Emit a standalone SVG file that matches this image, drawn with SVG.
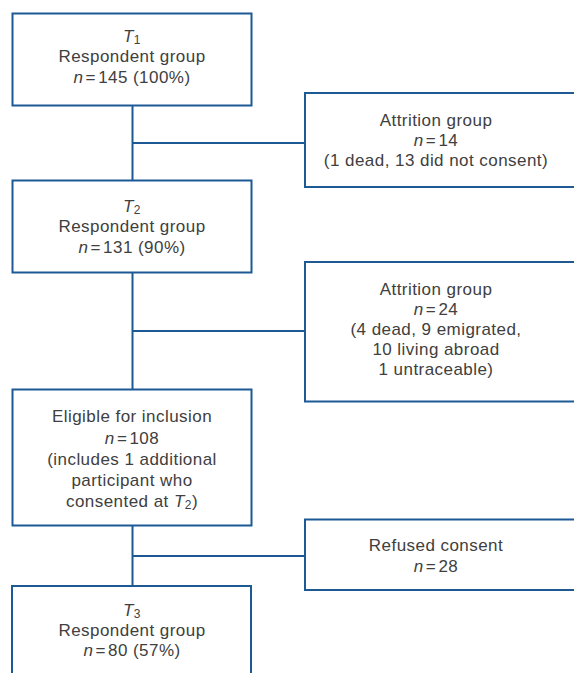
<svg xmlns="http://www.w3.org/2000/svg" width="574" height="673" viewBox="0 0 574 673">
<style>
.box{fill:#fff;stroke:#1d5a95;stroke-width:2}
.ln{fill:none;stroke:#1d5a95;stroke-width:2}
text{font-family:"Liberation Sans",Arial,sans-serif;font-size:17px;letter-spacing:0.45px;fill:#404040;text-anchor:middle}
.i{font-style:italic}
.s{font-size:12px}
.ws{word-spacing:-3px}
</style>
<rect width="574" height="673" fill="#fff"/>
<g id="connectors">
<path class="ln" d="M132.5 106V180M132.5 143H305M132.5 273V389M132.5 331H305M132.5 526V586M132.5 556H305"/>
</g>
<g id="t1">
<rect class="box" x="12.5" y="13.5" width="239" height="92"/>
<text x="132" y="42"><tspan class="i">T</tspan><tspan class="s" dy="2">1</tspan></text>
<text x="132" y="62">Respondent group</text>
<text x="132" y="82.5"><tspan class="i">n</tspan><tspan class="ws"> = </tspan>145 (100%)</text>
</g>
<g id="attr1">
<rect class="box" x="305" y="93" width="280" height="94"/>
<text x="436" y="126">Attrition group</text>
<text x="436" y="146"><tspan class="i">n</tspan><tspan class="ws"> = </tspan>14</text>
<text x="436" y="166">(1 dead, 13 did not consent)</text>
</g>
<g id="t2">
<rect class="box" x="12.5" y="180.5" width="239" height="92"/>
<text x="132" y="212"><tspan class="i">T</tspan><tspan class="s" dy="2">2</tspan></text>
<text x="132" y="232">Respondent group</text>
<text x="132" y="252.5"><tspan class="i">n</tspan><tspan class="ws"> = </tspan>131 (90%)</text>
</g>
<g id="attr2">
<rect class="box" x="305" y="262" width="280" height="139.5"/>
<text x="436" y="295">Attrition group</text>
<text x="436" y="315"><tspan class="i">n</tspan><tspan class="ws"> = </tspan>24</text>
<text x="436" y="335">(4 dead, 9 emigrated,</text>
<text x="436" y="355">10 living abroad</text>
<text x="436" y="375">1 untraceable)</text>
</g>
<g id="eligible">
<rect class="box" x="12.5" y="389.5" width="239" height="136"/>
<text x="132" y="422">Eligible for inclusion</text>
<text x="132" y="444"><tspan class="i">n</tspan><tspan class="ws"> = </tspan>108</text>
<text x="132" y="465">(includes 1 additional</text>
<text x="132" y="486">participant who</text>
<text x="132" y="507">consented at <tspan class="i">T</tspan><tspan class="s" dy="2">2</tspan><tspan dy="-2">)</tspan></text>
</g>
<g id="refused">
<rect class="box" x="305" y="519.5" width="280" height="70.5"/>
<text x="436" y="551">Refused consent</text>
<text x="436" y="572"><tspan class="i">n</tspan><tspan class="ws"> = </tspan>28</text>
</g>
<g id="t3">
<rect class="box" x="12" y="586" width="239" height="100"/>
<text x="132" y="615.5"><tspan class="i">T</tspan><tspan class="s" dy="2">3</tspan></text>
<text x="132" y="635.5">Respondent group</text>
<text x="132" y="656"><tspan class="i">n</tspan><tspan class="ws"> = </tspan>80 (57%)</text>
</g>
</svg>
